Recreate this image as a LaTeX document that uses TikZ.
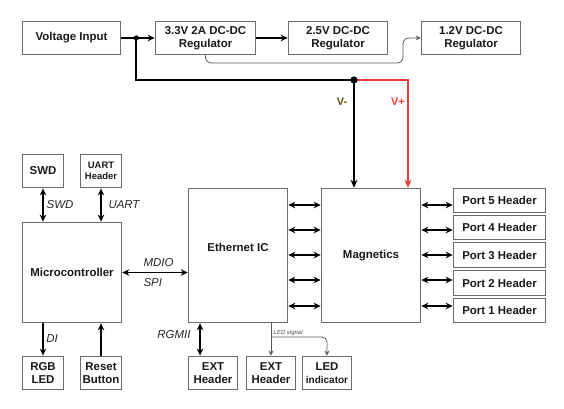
\documentclass[tikz,border=0pt]{standalone}
\usepackage{fontspec}
\setmainfont{Liberation Sans}
\usetikzlibrary{calc,arrows.meta}
\definecolor{boxgray}{HTML}{6A6A6A}
\definecolor{vminus}{HTML}{6B4A14}
\definecolor{vplus}{HTML}{F03A3A}
\tikzset{
	blk/.style={draw=boxgray, line width=1bp, inner sep=1pt, align=center, text=black!90, font=\bfseries\fontsize{11.5}{13}\selectfont},
	sblk/.style={blk, font=\bfseries\fontsize{9.5}{11}\selectfont},
	sig/.style={line width=1.5bp, -{Stealth[length=7pt,width=6.5pt]}},
	dbl/.style={line width=1.5bp, {Stealth[length=7pt,width=6.5pt]}-{Stealth[length=7pt,width=6.5pt]}},
	lbl/.style={font=\itshape\fontsize{11.5}{13}\selectfont, text=black!85},
	thinsig/.style={draw=black!65, line width=0.8bp, -{Stealth[length=5pt,width=5pt]}},
}
\begin{document}
\begin{tikzpicture}[x=1bp, y=-1bp]
				\useasboundingbox (0,0) rectangle (564,408);
				
				\node[blk, minimum width=99, minimum height=34] (vin) at (71.5,38) {Voltage Input};
				\node[blk, minimum width=101, minimum height=34] (reg33) at (205.5,38) {3.3V 2A DC-DC\\Regulator};
				\node[blk, minimum width=100, minimum height=34] (reg25) at (338,38) {2.5V DC-DC\\Regulator};
				\node[blk, minimum width=100, minimum height=34] (reg12) at (471,38) {1.2V DC-DC\\Regulator};
				
				\node[blk, minimum width=42, minimum height=34] (swd) at (43,171) {SWD};
				\node[sblk, minimum width=42, minimum height=34] (uart) at (101,171) {UART\\Header};
				\node[blk, minimum width=100, minimum height=101] (mcu) at (72,272.5) {Microcontroller};
				\node[blk, minimum width=42, minimum height=34] (rgb) at (43,373) {RGB\\LED};
				\node[blk, minimum width=42, minimum height=34] (reset) at (101,373) {Reset\\Button};
				
				\node[blk, minimum width=100, minimum height=135] (eth) at (238,255.5) {\raisebox{17bp}{Ethernet IC}};
				\node[blk, minimum width=100, minimum height=135] (mag) at (371,255.5) {Magnetics};
				\node[blk, minimum width=50, minimum height=34] (ext1) at (213,373) {EXT\\Header};
				\node[blk, minimum width=50, minimum height=34] (ext2) at (271,373) {EXT\\Header};
				\node[blk, minimum width=50, minimum height=34] (ledind) at (327,373) {LED\\{\fontsize{10}{11}\selectfont indicator}};
				
				\node[blk, minimum width=93, minimum height=25] (p5) at (499.5,200.5) {Port 5 Header};
				\node[blk, minimum width=93, minimum height=25] (p4) at (499.5,227.5) {Port 4 Header};
				\node[blk, minimum width=93, minimum height=26] (p3) at (499.5,255) {Port 3 Header};
				\node[blk, minimum width=93, minimum height=26] (p2) at (499.5,283) {Port 2 Header};
				\node[blk, minimum width=93, minimum height=25] (p1) at (499.5,310.5) {Port 1 Header};
				
				\coordinate (jin) at ($(vin.east)!0.45!(reg33.west)$);
				\coordinate (jmag) at (354,80);
				\coordinate (jred) at (408,80);
				\draw[sig] (vin) -- (reg33);
				\draw[sig] (reg33) -- (reg25);
				\draw[line width=1.8bp] (jin) |- (jmag);
				\draw[line width=1.9bp, -{Stealth[length=8pt,width=7pt]}] (jmag) -- (jmag |- mag.north);
				\draw[vplus, line width=1.4bp, -{Stealth[length=8pt,width=7pt]}] (jmag) -- (jred) -- (jred |- mag.north);
				\fill (jin) circle (2.6);
				\fill (jmag) circle (3.6);
				\node[font=\bfseries\fontsize{11}{12}\selectfont, text=vminus] (vm) at (342,102) {V-};
				\node[font=\bfseries\fontsize{11}{12}\selectfont, text=vplus] (vp) at (398,102) {V+};
				\draw[thinsig, rounded corners=6] (reg33.south) |- (403,63) |- (reg12.west);
				
				\draw[dbl] (swd.south) -- (swd.south |- mcu.north);
				\node[lbl] (swdl) at (60,205) {SWD};
				\draw[dbl] (uart.south) -- (uart.south |- mcu.north);
				\node[lbl] (uartl) at (124,205) {UART};
				\draw[sig] (rgb.north |- mcu.south) -- (rgb.north);
				\node[lbl] (dil) at (52,339) {DI};
				\draw[sig] (reset.north) -- (reset.north |- mcu.south);
				\draw[dbl] (mcu.east) -- (mcu.east -| eth.west);
				\node[lbl, anchor=west] (mdiol) at (140,263) {MDIO};
				\node[lbl, anchor=west] (spil) at (140,283) {SPI};
				
				\draw[dbl] ([xshift=-13]ext1.north |- eth.south) -- ([xshift=-13]ext1.north);
				\node[lbl] (rgmiil) at (174,335) {RGMII};
				\draw[thinsig] (ext2.north |- eth.south) -- (ext2.north);
				\draw[thinsig, rounded corners=5] (ext2.north |- 0,337) -| (ledind.north);
				\node[anchor=south west, inner sep=0.5pt, font=\itshape\fontsize{6}{7}\selectfont, text=black!70] (ledsig) at (273,336.5) {LED signal};
				
				\foreach \y [count=\i] in {306,280,255,230,205}
					{
					\draw[dbl] (eth.east |- 0,\y) -- (mag.west |- 0,\y);
					\draw[dbl] (mag.east |- 0,\y) -- (p\i.west |- 0,\y);
					}
			\end{tikzpicture}
\end{document}
